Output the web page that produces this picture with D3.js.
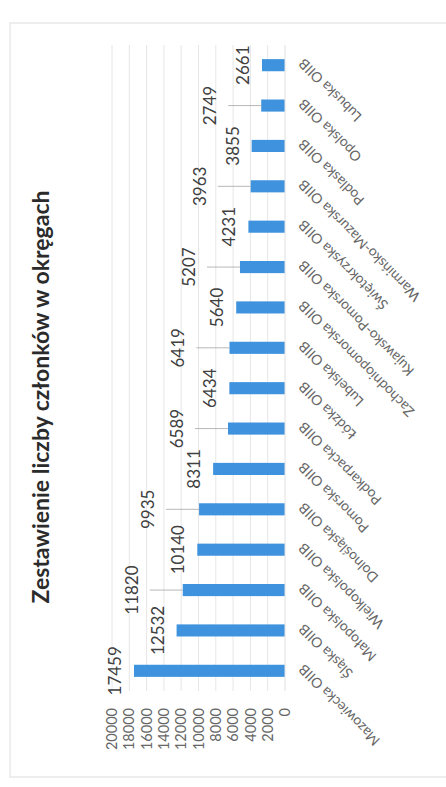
<!DOCTYPE html>
<html><head><meta charset="utf-8">
<script src="https://cdn.jsdelivr.net/npm/d3@7/dist/d3.min.js"></script>
<style>html,body{margin:0;padding:0;background:#fff;}svg{display:block;}</style>
</head><body>
<svg id="c" width="446" height="787"></svg>
<script>
const title = "Zestawienie liczby członków w okręgach";
const categories = ["Mazowiecka OIIB","Śląska OIIB","Małopolska OIIB","Wielkopolska OIIB","Dolnośląska OIIB","Pomorska OIIB","Podkarpacka OIIB","Łódzka OIIB","Lubelska OIIB","Zachodniopomorska OIIB","Kujawsko-Pomorska OIIB","Świętokrzyska OIIB","Warmińsko-Mazurska OIIB","Podlaska OIIB","Opolska OIIB","Lubuska OIIB"];
const members = [17459,12532,11820,10140,9935,8311,6589,6434,6419,5640,5207,4231,3963,3855,2749,2661];
const tickValues = [0,2000,4000,6000,8000,10000,12000,14000,16000,18000,20000];

const W = 787; // unrotated chart frame width
const svg = d3.select("#c");
// chart drawn upright, then rotated 90° counter-clockwise (scanned page orientation)
const g = svg.append("g").attr("transform", `translate(0,${W}) rotate(-90)`);
const font = "Lato, 'Open Sans', sans-serif";

const rows = categories.map((c, i) => ({ c, v: members[i], i }));

// chart frame
g.append("rect").attr("x", 10).attr("y", 10).attr("width", 754).attr("height", 460)
  .attr("fill", "none").attr("stroke", "#e3e3e3").attr("stroke-width", 1.2);

const x = d3.scaleBand().domain(categories).range([96, 742]).paddingInner(0.7).paddingOuter(0.35);
const y = d3.scaleLinear().domain([0, 20000]).range([285, 112]);
const cx = r => x(r.c) + x.bandwidth() / 2;

// gridlines
g.append("g").selectAll("line").data(tickValues.slice(1)).join("line")
  .attr("x1", 96).attr("x2", 742).attr("y1", d => y(d)).attr("y2", d => y(d))
  .attr("stroke", "#e6e6e6").attr("stroke-width", 1);

// value axis (labels only)
const yAxis = d3.axisLeft(y).tickValues(tickValues).tickSize(0).tickPadding(0).tickFormat(d3.format("d"));
const ya = g.append("g").attr("transform", "translate(79,0)").call(yAxis);
ya.select(".domain").remove();
ya.selectAll("text").attr("font-family", font).attr("font-size", 14.5).attr("fill", "#666");

// bars
g.append("g").selectAll("rect").data(rows).join("rect")
  .attr("x", r => x(r.c)).attr("width", x.bandwidth())
  .attr("y", r => y(r.v)).attr("height", r => y(0) - y(r.v))
  .attr("fill", "#3f93de");

// category axis
const xAxis = d3.axisBottom(x).tickSize(0).tickPadding(0);
const xa = g.append("g").attr("transform", `translate(0,${y(0)})`).call(xAxis);
xa.select(".domain").attr("stroke", "#e0e0e0").attr("d", "M96,0H742");
xa.selectAll("text")
  .attr("font-family", font).attr("font-size", 14).attr("fill", "#666")
  .attr("text-anchor", "end").attr("dy", "0.35em")
  .attr("transform", "translate(4,16) rotate(-45)");

// data labels (alternate ones pushed out with leader lines)
const lifted = r => r.i > 0 && r.i % 2 === 0;
const labY = r => y(r.v) - (lifted(r) ? 45 : 13);
g.append("g").selectAll("line").data(rows.filter(lifted)).join("line")
  .attr("x1", cx).attr("x2", cx)
  .attr("y1", r => y(r.v)).attr("y2", r => labY(r) + 12)
  .attr("stroke", "#a6a6a6").attr("stroke-width", 0.8);
g.append("g").selectAll("text").data(rows).join("text")
  .attr("x", cx)
  .attr("y", labY)
  .attr("text-anchor", "middle")
  .attr("font-family", font).attr("font-size", 17).attr("fill", "#404040")
  .text(r => r.v);

// title
g.append("text").attr("x", 390).attr("y", 49).attr("text-anchor", "middle")
  .attr("font-family", font).attr("font-weight", "bold").attr("font-size", 23).attr("fill", "#2b2b2b")
  .text(title);
</script>
</body></html>
